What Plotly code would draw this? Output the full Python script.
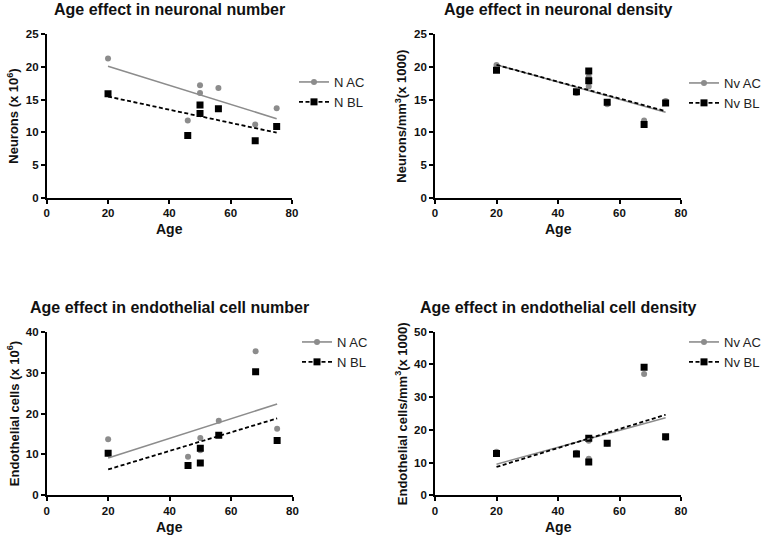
import numpy as np
import plotly.graph_objects as go

# ---------------- data ----------------
age = [20, 46, 50, 50, 56, 68, 75]

n_ac = [21.3, 11.8, 17.2, 16.0, 16.8, 11.2, 13.7]
n_bl = [15.9, 9.5, 14.2, 12.9, 13.6, 8.7, 10.9]

nv_ac = [20.3, 16.0, 18.5, 17.0, 14.3, 11.8, 14.8]
nv_bl = [19.5, 16.2, 19.4, 17.9, 14.6, 11.2, 14.5]

ec_ac = [13.7, 9.4, 14.0, 11.0, 18.2, 35.2, 16.3]
ec_bl = [10.3, 7.3, 11.5, 7.9, 14.7, 30.2, 13.4]

ecv_ac = [13.3, 13.0, 16.7, 11.2, 15.8, 37.1, 17.5]
ecv_bl = [12.8, 12.6, 17.4, 10.2, 15.9, 39.1, 17.9]

titles = ["Age effect in neuronal number", "Age effect in neuronal density",
          "Age effect in endothelial cell number", "Age effect in endothelial cell density"]
ylabels = ["Neurons (x 10<sup>6</sup>)", "Neurons/mm<sup>3</sup>(x 1000)",
           "Endothelial cells (x 10<sup>6</sup>)", "Endothelial cells/mm<sup>3</sup>(x 1000)"]
xlabel = "Age"
names = [("N AC", "N BL"), ("Nv AC", "Nv BL"), ("N AC", "N BL"), ("Nv AC", "Nv BL")]
series = [(n_ac, n_bl), (nv_ac, nv_bl), (ec_ac, ec_bl), (ecv_ac, ecv_bl)]
yranges = [25, 25, 40, 50]
ydticks = [5, 5, 10, 10]

# ---------------- layout geometry (pixels) ----------------
W, H = 765, 537
xpx = [(46.7, 292.0), (435.0, 681.0), (46.7, 292.5), (435.0, 681.0)]
ypx = [(34.3, 197.7), (34.3, 197.7), (331.7, 495.3), (331.7, 495.3)]
title_y = [10, 10, 307, 307]
xtitle_y = [229, 229, 527, 527]
ytitle_x = [12.7, 400.7, 12.7, 400.7]
legend_pos = [(294, 67), (684, 68), (297, 327), (684, 327)]

FONT = "Liberation Sans, Arial, sans-serif"
GRAY = "#8c8c8c"
BLACK = "#000000"

def px_x(v):
    return v / W

def px_y(v):
    return 1 - v / H

fig = go.Figure()
annotations = []
layout = dict()

for i in range(4):
    k = "" if i == 0 else str(i + 1)
    xa, ya = "x" + k, "y" + k
    lg = "legend" + k
    ac, bl = series[i]
    n_ac_name, n_bl_name = names[i]

    # scatter points
    fig.add_trace(go.Scatter(x=age, y=ac, mode="markers", xaxis=xa, yaxis=ya,
                             marker=dict(symbol="circle", size=6, color=GRAY),
                             showlegend=False, hoverinfo="x+y"))
    fig.add_trace(go.Scatter(x=age, y=bl, mode="markers", xaxis=xa, yaxis=ya,
                             marker=dict(symbol="square", size=7, color=BLACK),
                             showlegend=False, hoverinfo="x+y"))
    # regression lines
    xs = np.array([min(age), max(age)], dtype=float)
    for vals, col, dash, w in [(ac, GRAY, "solid", 1.6), (bl, BLACK, "4px,2.5px", 1.8)]:
        b, a = np.polyfit(age, vals, 1)
        fig.add_trace(go.Scatter(x=xs, y=a + b * xs, mode="lines", xaxis=xa, yaxis=ya,
                                 line=dict(color=col, width=w, dash=dash),
                                 showlegend=False, hoverinfo="skip"))
    # legend entries
    fig.add_trace(go.Scatter(x=[None], y=[None], mode="lines+markers", xaxis=xa, yaxis=ya,
                             name=n_ac_name, legend=lg,
                             line=dict(color=GRAY, width=1.6),
                             marker=dict(symbol="circle", size=6, color=GRAY)))
    fig.add_trace(go.Scatter(x=[None], y=[None], mode="lines+markers", xaxis=xa, yaxis=ya,
                             name=n_bl_name, legend=lg,
                             line=dict(color=BLACK, width=1.8, dash="4px,2.5px"),
                             marker=dict(symbol="square", size=7, color=BLACK)))

    x0, x1 = xpx[i]
    y0, y1 = ypx[i]
    axis_common = dict(showline=True, linecolor=BLACK, linewidth=1.7, ticks="outside",
                       ticklen=4, tickwidth=1.7, tickcolor=BLACK, showgrid=False,
                       zeroline=False, automargin=False,
                       tickfont=dict(family=FONT, size=11.5, color="#111", weight="bold"))
    layout["xaxis" + k] = dict(domain=[px_x(x0), px_x(x1)], range=[0, 80], dtick=20, tick0=0,
                               anchor=ya, **axis_common)
    layout["yaxis" + k] = dict(domain=[px_y(y1), px_y(y0)], range=[0, yranges[i]], dtick=ydticks[i],
                               tick0=0, anchor=xa, **axis_common)
    lx, ly = legend_pos[i]
    layout[lg] = dict(x=px_x(lx), y=px_y(ly), xanchor="left", yanchor="top",
                      font=dict(family=FONT, size=13, color="#222"),
                      bgcolor="rgba(0,0,0,0)", tracegroupgap=0)

    cx = (x0 + x1) / 2
    annotations.append(dict(text=titles[i], x=px_x(cx), y=px_y(title_y[i]), xref="paper", yref="paper",
                            xanchor="center", yanchor="middle", showarrow=False,
                            font=dict(family=FONT, size=16, color="#111", weight="bold")))
    annotations.append(dict(text=xlabel, x=px_x(cx), y=px_y(xtitle_y[i]), xref="paper", yref="paper",
                            xanchor="center", yanchor="middle", showarrow=False,
                            font=dict(family=FONT, size=14, color="#111", weight="bold")))
    annotations.append(dict(text=ylabels[i], x=px_x(ytitle_x[i]), y=px_y((y0 + y1) / 2),
                            xref="paper", yref="paper", textangle=-90,
                            xanchor="center", yanchor="middle", showarrow=False,
                            font=dict(family=FONT, size=13, color="#111", weight="bold")))

fig.update_layout(width=W, height=H, margin=dict(l=0, r=0, t=0, b=0, autoexpand=False),
                  paper_bgcolor="white", plot_bgcolor="white",
                  annotations=annotations, **layout)

fig.write_html("out.html", config={"displayModeBar": False},
               post_script="document.body.style.margin='0px';")
